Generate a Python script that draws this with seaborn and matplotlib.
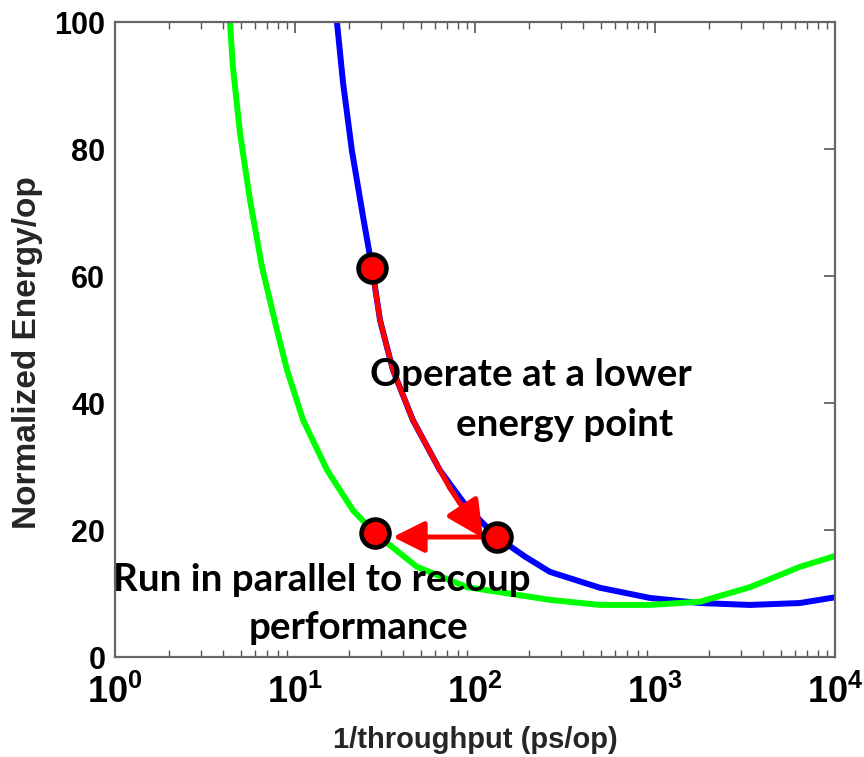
import numpy as np
import pandas as pd
import matplotlib
matplotlib.use("Agg")
import matplotlib.pyplot as plt
import matplotlib.ticker as mticker
import seaborn as sns

# ---- data ----
blue_x = [17.1, 18.5, 20.7, 23.9, 26.8, 29.7, 35.0, 45.2, 63.9, 90.3, 132, 190, 261, 495, 938, 1778, 3371, 6390, 10000]
blue_y = [100, 90.4, 79.8, 69.3, 61.3, 53.0, 45.2, 37.3, 29.4, 23.6, 18.9, 15.8, 13.4, 10.9, 9.3, 8.5, 8.2, 8.5, 9.4]

green_x = [4.35, 4.52, 4.95, 5.62, 6.56, 7.94, 9.03, 11.1, 15.1, 21.0, 27.8, 47.6, 90.3, 171, 261, 495, 938, 1778, 3371, 6390, 10000]
green_y = [100, 92.9, 82.5, 72.0, 61.4, 51.5, 45.2, 37.3, 29.4, 23.1, 19.5, 14.2, 11.0, 9.8, 9.0, 8.2, 8.2, 8.7, 11.0, 14.2, 15.9]

red_x = [26.8, 29.7, 35.0, 45.2, 63.9, 72.6]
red_y = [61.3, 53.0, 45.2, 37.3, 29.4, 26.6]

dot_x = [26.8, 132, 27.8]
dot_y = [61.3, 18.9, 19.5]

down_arrow_from = (72.6, 26.6)
down_arrow_to = (110.8, 18.7)
left_arrow_from = (112, 18.9)
left_arrow_to = (35.0, 18.9)

xtick_vals = [1, 10, 100, 1000, 10000]
xtick_labels = [r"$\mathbf{10^{0}}$", r"$\mathbf{10^{1}}$", r"$\mathbf{10^{2}}$",
                r"$\mathbf{10^{3}}$", r"$\mathbf{10^{4}}$"]
ytick_vals = [0, 20, 40, 60, 80, 100]
ytick_labels = ["0", "20", "40", "60", "80", "100"]

sns.set_theme(style="white")
plt.rcParams["font.family"] = ["Liberation Sans", "DejaVu Sans"]
plt.rcParams["mathtext.fontset"] = "custom"
plt.rcParams["mathtext.rm"] = "Liberation Sans"
plt.rcParams["mathtext.bf"] = "Liberation Sans:bold"

fig = plt.figure(figsize=(8.64, 7.57), dpi=100)
ax = fig.add_axes([0.1331, 0.1321, 0.8333, 0.8388])

bdf = pd.DataFrame({"x": blue_x, "y": blue_y})
gdf = pd.DataFrame({"x": green_x, "y": green_y})
rdf = pd.DataFrame({"x": red_x, "y": red_y})
ddf = pd.DataFrame({"x": dot_x, "y": dot_y})

sns.lineplot(data=bdf, x="x", y="y", ax=ax, color="#0000ff", lw=4.3, sort=False, estimator=None, zorder=2)
sns.lineplot(data=gdf, x="x", y="y", ax=ax, color="#00ff00", lw=4.3, sort=False, estimator=None, zorder=2)
sns.lineplot(data=rdf, x="x", y="y", ax=ax, color="#ff0000", lw=3.8, sort=False, estimator=None, zorder=3)

ax.annotate("", xy=down_arrow_to, xytext=down_arrow_from,
            arrowprops=dict(arrowstyle="-|>,head_length=0.4,head_width=0.2", color="#ff0000",
                            lw=3.8, mutation_scale=56, shrinkA=0, shrinkB=0), zorder=4)
ax.annotate("", xy=left_arrow_to, xytext=left_arrow_from,
            arrowprops=dict(arrowstyle="-|>,head_length=0.4,head_width=0.2", color="#ff0000",
                            lw=3.6, mutation_scale=48, shrinkA=0, shrinkB=0), zorder=4)

sns.scatterplot(data=ddf, x="x", y="y", ax=ax, s=400, color="#ff0000", edgecolor="black",
                linewidth=3.4, zorder=5, legend=False)

ax.set_xscale("log")
ax.set_xlim(1, 10000)
ax.set_ylim(0, 100)
ax.set_xticks(xtick_vals)
ax.set_xticklabels(xtick_labels, fontsize=26)
ax.xaxis.set_minor_locator(mticker.LogLocator(base=10, subs=np.arange(2, 10)))
ax.xaxis.set_minor_formatter(mticker.NullFormatter())
ax.set_yticks(ytick_vals)
ax.set_yticklabels(ytick_labels, fontsize=22, fontweight="bold")

ax.tick_params(axis="both", which="major", direction="in", length=8, width=1.2,
               color="#555555", top=True, right=True, labelcolor="black")
ax.tick_params(axis="x", which="minor", direction="in", length=5, width=1.0,
               color="#555555", top=True, bottom=True)
ax.tick_params(axis="x", which="major", pad=13)
ax.tick_params(axis="y", which="major", pad=7)

for sp in ax.spines.values():
    sp.set_color("#666666")
    sp.set_linewidth(1.6)
    sp.set_visible(True)

ax.set_xlabel("1/throughput (ps/op)", fontsize=21, fontweight="bold", va="top")
ax.xaxis.set_label_coords(0.5, -0.108)
ax.set_ylabel("Normalized Energy/op", fontsize=24, fontweight="bold")
ax.yaxis.set_label_coords(-0.10, 0.479)

txt_kw = dict(fontsize=27.7, fontweight="bold", family=["Lato", "DejaVu Sans"],
              ha="center", va="center", color="black", zorder=6)
ax.text(205, 44.4, "Operate at a lower", **txt_kw)
ax.text(316, 36.5, "energy point", **txt_kw)
ax.text(14.1, 12.1, "Run in parallel to recoup", **txt_kw)
ax.text(22.4, 4.6, "performance", **txt_kw)

fig.savefig("out.png", dpi=100, facecolor="white")
